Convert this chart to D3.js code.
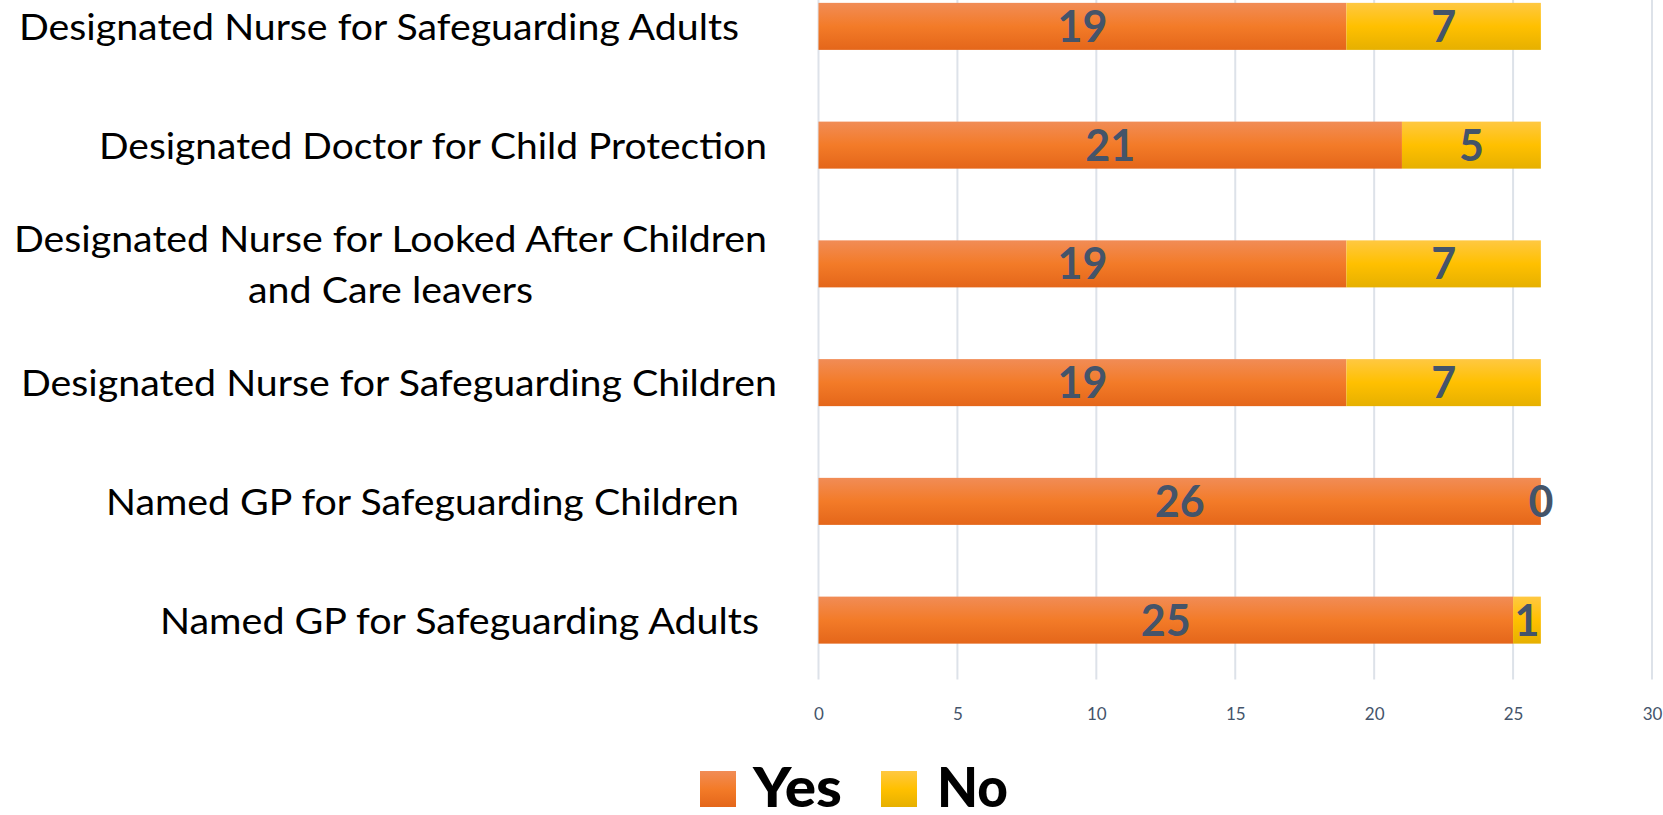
<!DOCTYPE html>
<html>
<head>
<meta charset="utf-8">
<script src="https://cdn.jsdelivr.net/npm/d3@7"></script>
<style>
  html, body { margin: 0; padding: 0; background: #fff; }
  svg { display: block; }
</style>
</head>
<body>
<svg id="chart" width="1663" height="815"></svg>
<script>
// Roles, top to bottom, with each label's text lines
const categories = [
  "Designated Nurse for Safeguarding Adults",
  "Designated Doctor for Child Protection",
  "Designated Nurse for Looked After Children and Care leavers",
  "Designated Nurse for Safeguarding Children",
  "Named GP for Safeguarding Children",
  "Named GP for Safeguarding Adults"
];
const labelLines = [
  ["Designated Nurse for Safeguarding Adults"],
  ["Designated Doctor for Child Protection"],
  ["Designated Nurse for Looked After Children", "and Care leavers"],
  ["Designated Nurse for Safeguarding Children"],
  ["Named GP for Safeguarding Children"],
  ["Named GP for Safeguarding Adults"]
];
const yesValues = [19, 21, 19, 19, 26, 25];
const noValues  = [7, 5, 7, 7, 0, 1];
const seriesNames = ["Yes", "No"];
const xTicks = [0, 5, 10, 15, 20, 25, 30];

// Horizontal extent of each label line (left, right) in pixels
const labelSpans = [
  [[19, 739]],
  [[99, 767]],
  [[14, 767], [248, 533]],
  [[21, 777]],
  [[106, 739]],
  [[160, 759]]
];

const svg = d3.select("#chart");
const plotTop = -33, plotBottom = 679.5;

const x = d3.scaleLinear().domain([0, 30]).range([818.5, 1652]);
const y = d3.scaleBand().domain(categories).range([plotTop, plotBottom])
  .paddingInner(0.604).paddingOuter(0.302);

// Gradients for the bar fills
const defs = svg.append("defs");
function grad(id, stops) {
  const g = defs.append("linearGradient").attr("id", id)
    .attr("x1", 0).attr("y1", 0).attr("x2", 0).attr("y2", 1);
  stops.forEach(([o, c]) => g.append("stop").attr("offset", o).attr("stop-color", c));
}
grad("gYes", [[0, "#f18c56"], [0.5, "#f37b28"], [1, "#e4661a"]]);
grad("gNo", [[0, "#ffc842"], [0.5, "#ffc000"], [1, "#e6b000"]]);
const fills = { Yes: "url(#gYes)", No: "url(#gNo)" };

// Vertical gridlines
svg.append("g")
  .selectAll("line").data(xTicks).join("line")
  .attr("x1", d => x(d)).attr("x2", d => x(d))
  .attr("y1", 0).attr("y2", plotBottom)
  .attr("stroke", "#dde2e9").attr("stroke-width", 2);

// Axis tick labels
const xAxis = d3.axisBottom(x).tickValues(xTicks).tickSize(0).tickPadding(0);
const gx = svg.append("g").attr("transform", `translate(0,${plotBottom + 35})`).call(xAxis);
gx.select(".domain").remove();
gx.selectAll("text")
  .attr("font-family", "Lato, 'Open Sans', sans-serif")
  .attr("font-size", 17).attr("fill", "#44546a").attr("dy", "0.35em").attr("y", 0);

// Stacked bars
const rows = categories.map((c, i) => ({ cat: c, Yes: yesValues[i], No: noValues[i] }));
const stacked = d3.stack().keys(seriesNames)(rows);

const layers = svg.append("g").selectAll("g").data(stacked).join("g")
  .attr("fill", d => fills[d.key]);
layers.selectAll("rect").data(d => d).join("rect")
  .attr("x", d => x(d[0]))
  .attr("y", d => y(d.data.cat))
  .attr("width", d => x(d[1]) - x(d[0]))
  .attr("height", y.bandwidth());

// Value labels centred in each segment
const labelG = svg.append("g");
stacked.forEach(layer => {
  labelG.selectAll(null).data(layer).join("text")
    .attr("x", d => x((d[0] + d[1]) / 2))
    .attr("y", d => y(d.data.cat) + y.bandwidth() / 2)
    .attr("dy", "0.36em")
    .attr("text-anchor", "middle")
    .attr("font-family", "Lato, 'Open Sans', sans-serif")
    .attr("font-weight", 700).attr("font-size", 43)
    .attr("fill", "#44546a")
    .text(d => d.data[layer.key]);
});

// Category labels
const catG = svg.append("g")
  .attr("font-family", "Lato, 'Open Sans', sans-serif")
  .attr("font-size", 37.5).attr("fill", "#000");
categories.forEach((c, i) => {
  const lines = labelLines[i];
  const cy = y(c) + y.bandwidth() / 2;
  const lh = 51;
  lines.forEach((t, j) => {
    const [l, r] = labelSpans[i][j];
    const ly = cy + (j - (lines.length - 1) / 2) * lh + 13.5;
    catG.append("text")
      .attr("x", (l + r) / 2).attr("y", ly)
      .attr("text-anchor", "middle")
      .attr("textLength", r - l).attr("lengthAdjust", "spacingAndGlyphs")
      .text(t);
  });
});

// Legend
const legend = svg.append("g").attr("font-family", "Lato, 'Open Sans', sans-serif")
  .attr("font-weight", 900).attr("font-size", 55);
const legendItems = [
  { key: "Yes", sx: 700, tx: 753, tw: 89 },
  { key: "No", sx: 881, tx: 937, tw: 71 }
];
legendItems.forEach(it => {
  legend.append("rect").attr("x", it.sx).attr("y", 771).attr("width", 36).attr("height", 36)
    .attr("fill", fills[it.key]);
  legend.append("text").attr("x", it.tx).attr("y", 806.5)
    .attr("textLength", it.tw).attr("lengthAdjust", "spacingAndGlyphs")
    .attr("fill", "#000").text(it.key);
});
</script>
</body>
</html>
